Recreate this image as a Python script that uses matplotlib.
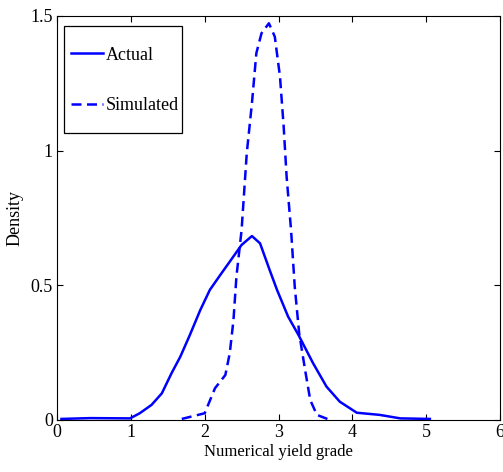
import matplotlib
matplotlib.use("Agg")
import matplotlib.pyplot as plt
from matplotlib.patches import Rectangle

plt.rcParams['font.family'] = ['Liberation Serif', 'DejaVu Serif']

actual_x = [0.06, 0.45, 0.99, 1.12, 1.28, 1.42, 1.55, 1.67, 1.80, 1.94, 2.07, 2.21, 2.34,
            2.50, 2.64, 2.75, 2.88, 2.98, 3.13, 3.27, 3.47, 3.65, 3.83, 4.06, 4.37, 4.65, 5.05]
actual_y = [0.004, 0.007, 0.006, 0.025, 0.056, 0.099, 0.173, 0.235, 0.316, 0.408, 0.483, 0.538,
            0.588, 0.650, 0.683, 0.656, 0.557, 0.483, 0.384, 0.316, 0.210, 0.124, 0.068, 0.027,
            0.019, 0.006, 0.004]

sim_x = [1.69, 2.00, 2.14, 2.28, 2.34, 2.39, 2.43, 2.50, 2.57, 2.64, 2.70, 2.77, 2.87, 2.95,
         3.02, 3.07, 3.11, 3.17, 3.22, 3.28, 3.36, 3.43, 3.52, 3.67]
sim_y = [0.004, 0.025, 0.118, 0.167, 0.248, 0.371, 0.532, 0.705, 0.990, 1.176, 1.362, 1.436,
         1.473, 1.423, 1.275, 1.089, 0.903, 0.705, 0.495, 0.322, 0.186, 0.074, 0.019, 0.003]

xticks = [0, 1, 2, 3, 4, 5, 6]
yticks = [0, 0.5, 1, 1.5]
ytick_labels = ["0", "0.5", "1", "1.5"]

fig = plt.figure(figsize=(5.03, 4.72), dpi=100)
ax = fig.add_axes([57/503, 52/472, 443/503, 404/472])

ax.plot(actual_x, actual_y, color='#0000ff', lw=1.8, label='Actual')
ax.plot(sim_x, sim_y, color='#0000ff', lw=1.8, dashes=(4, 2.2), label='Simulated')

ax.set_xlim(0, 6)
ax.set_ylim(0, 1.5)
ax.set_xticks(xticks)
ax.set_xticklabels([str(t) for t in xticks])
ax.set_yticks(yticks)
ax.set_yticklabels(ytick_labels)
ax.tick_params(direction='in', top=True, right=True, labelsize=13, length=4, width=0.8, pad=3)
for s in ax.spines.values():
    s.set_linewidth(0.8)

ax.set_xlabel('Numerical yield grade', fontsize=12, labelpad=2)
ax.set_ylabel('Density', fontsize=13, labelpad=5)

# legend frame (drawn separately to match padding)
ax.add_patch(Rectangle((0.0165, 0.7097), 0.2663, 0.2663, transform=ax.transAxes,
                       facecolor='white', edgecolor='black', lw=0.9, zorder=4))
leg = ax.legend(loc='upper left', bbox_to_anchor=(0.0316, 0.9245), fontsize=13,
                handlelength=1.77, handletextpad=0.15, labelspacing=1.86,
                borderpad=0, frameon=False, borderaxespad=0)
leg.set_zorder(5)

fig.savefig('out.png', dpi=100)
